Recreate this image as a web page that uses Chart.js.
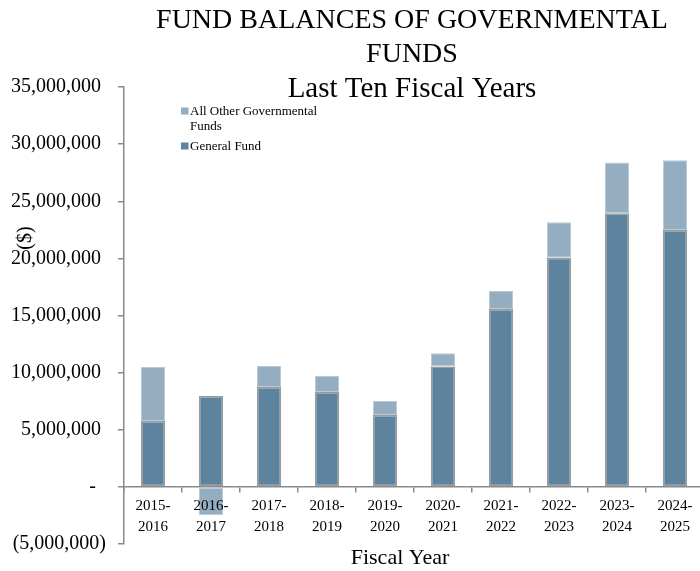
<!DOCTYPE html>
<html>
<head>
<meta charset="utf-8">
<title>Fund Balances of Governmental Funds</title>
<script src="https://cdn.jsdelivr.net/npm/chart.js@4.4.1/dist/chart.umd.min.js"></script>
<style>
  html, body { margin: 0; padding: 0; background: #fff; overflow: hidden; }
  canvas { display: block; }
</style>
</head>
<body>
<canvas id="fondos" width="704" height="571"></canvas>
<script>
var years = [
    ['2015-', '2016'], ['2016-', '2017'], ['2017-', '2018'], ['2018-', '2019'], ['2019-', '2020'],
    ['2020-', '2021'], ['2021-', '2022'], ['2022-', '2023'], ['2023-', '2024'], ['2024-', '2025']
];
var generalFund = [5770000, 7960000, 8750000, 8310000, 6300000, 10530000, 15570000, 20060000, 23950000, 22480000];
var otherFunds = [4720000, -2480000, 1840000, 1400000, 1220000, 1170000, 1580000, 3100000, 4450000, 6100000];
var titleLines = ['FUND BALANCES OF GOVERNMENTAL', 'FUNDS', 'Last Ten Fiscal Years'];

var serif = '"Liberation Serif", "Times New Roman", serif';

// titles, axis captions and the little legend in the top-left corner
var decoraciones = {
    id: 'decoraciones',
    afterDraw: function (chart) {
        var ctx = chart.ctx;
        var area = chart.chartArea;
        ctx.save();
        ctx.fillStyle = '#000';

        ctx.textAlign = 'center';
        ctx.textBaseline = 'middle';
        var cx = (area.left + area.right) / 2 - 2;
        titleLines.forEach(function (t, i) {
            ctx.font = (i === 2 ? 29 : 28) + 'px ' + serif;
            ctx.fillText(t, cx, 21 + i * 34);
        });

        ctx.font = '22px ' + serif;
        ctx.fillText('Fiscal Year', 400, 558);

        ctx.save();
        ctx.translate(26, 238);
        ctx.rotate(-Math.PI / 2);
        ctx.font = '20px ' + serif;
        ctx.fillText('($)', 0, 0);
        ctx.restore();

        // legend, top series first
        ctx.font = '13px ' + serif;
        ctx.textAlign = 'left';
        ctx.textBaseline = 'alphabetic';
        var y = 115;
        chart.data.datasets.slice().reverse().forEach(function (ds) {
            ctx.fillStyle = ds.backgroundColor;
            ctx.fillRect(181, y - 7.5, 7.5, 7);
            ctx.fillStyle = '#000';
            var words = ds.label.split(' ');
            var line = '';
            var lines = [];
            words.forEach(function (w) {
                var test = line ? line + ' ' + w : w;
                if (ctx.measureText(test).width > 140 && line) {
                    lines.push(line);
                    line = w;
                } else {
                    line = test;
                }
            });
            lines.push(line);
            lines.forEach(function (l, i) {
                ctx.fillText(l, 190, y + i * 15);
            });
            y += lines.length * 15 + 5;
        });
        ctx.restore();
    }
};

var ctx = document.getElementById('fondos').getContext('2d');
var fondos = new Chart(ctx, {
    type: 'bar',
    data: {
        labels: years,
        datasets: [{
            label: 'General Fund',
            data: generalFund,
            backgroundColor: '#5e839e',
            borderColor: '#9b9b9b',
            borderWidth: 1.5,
            borderSkipped: false
        }, {
            label: 'All Other Governmental Funds',
            data: otherFunds,
            backgroundColor: '#94adc1',
            borderColor: '#b9cad7',
            borderWidth: 1,
            borderSkipped: false
        }]
    },
    options: {
        responsive: false,
        animation: false,
        layout: { padding: { top: 87, bottom: 27, left: 0, right: 0 } },
        categoryPercentage: 1,
        barPercentage: 0.42,
        plugins: {
            legend: { display: false },
            tooltip: { enabled: false }
        },
        scales: {
            x: {
                stacked: true,
                position: { y: 0 },
                grid: {
                    offset: true,
                    drawOnChartArea: false,
                    tickLength: 5,
                    color: '#8a8a8a',
                    lineWidth: 1.5
                },
                border: { display: true, color: '#8a8a8a', width: 1.5 },
                ticks: {
                    z: 1,
                    color: '#000',
                    padding: 4,
                    maxRotation: 0,
                    font: { family: serif, size: 15, lineHeight: 1.4 }
                }
            },
            y: {
                stacked: true,
                min: -5000000,
                max: 35000000,
                afterFit: function (scale) { scale.width = 124; },
                grid: {
                    drawOnChartArea: false,
                    tickLength: 6,
                    color: '#8a8a8a',
                    lineWidth: 1.5
                },
                border: { display: true, color: '#8a8a8a', width: 1.5 },
                ticks: {
                    stepSize: 5000000,
                    color: '#000',
                    padding: 12,
                    font: { family: serif, size: 20 },
                    callback: function (v) {
                        if (v === 0) return '-  ';
                        var s = Math.abs(v).toLocaleString('en-US');
                        return v < 0 ? '(' + s + ')' : s + ' ';
                    }
                }
            }
        }
    },
    plugins: [decoraciones]
});
</script>
</body>
</html>
